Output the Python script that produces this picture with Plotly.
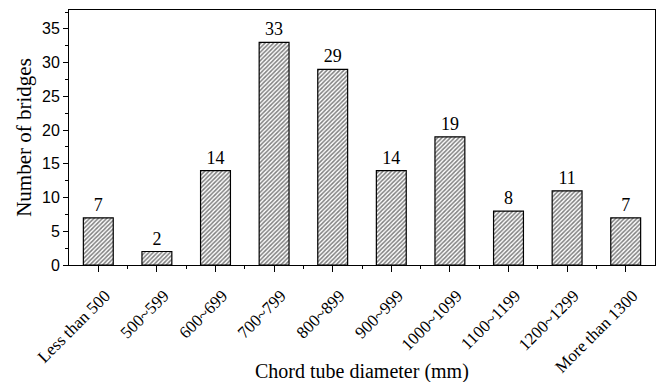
import plotly.graph_objects as go

categories = ["Less than 500", "500~599", "600~699", "700~799", "800~899",
              "900~999", "1000~1099", "1100~1199", "1200~1299", "More than 1300"]
counts = [7, 2, 14, 33, 29, 14, 19, 8, 11, 7]
y_ticks = [0, 5, 10, 15, 20, 25, 30, 35]

xpos = list(range(len(categories)))

fig = go.Figure()
fig.add_trace(go.Bar(
    x=xpos, y=counts, width=0.51,
    text=[str(c) for c in counts], textposition="outside",
    textfont=dict(family="Liberation Serif", size=18, color="black"),
    cliponaxis=False,
    marker=dict(color="white", line=dict(color="black", width=1.2),
                pattern=dict(shape="/", fgcolor="black", bgcolor="white", size=3, solidity=0.5)),
))

fig.update_layout(
    width=662, height=382,
    margin=dict(l=69, r=7, t=10, b=117),
    paper_bgcolor="white", plot_bgcolor="white",
    showlegend=False,
    xaxis=dict(
        range=[-0.5, 9.5], tickmode="array", tickvals=xpos, ticktext=categories,
        tickangle=-45, ticks="outside", ticklen=6, tickcolor="black",
        tickfont=dict(family="Liberation Serif", size=17, color="black"),
        ticklabelstandoff=7, ticklabelshift=7,
        showline=True, linecolor="black", linewidth=1, mirror=True,
        showgrid=False, zeroline=False, automargin=False,
        minor=dict(tickvals=[i + 0.5 for i in xpos[:-1]], ticks="outside", ticklen=3, tickcolor="black"),
    ),
    yaxis=dict(
        range=[0, 37.8], tickmode="array", tickvals=y_ticks,
        ticks="outside", ticklen=5, tickcolor="black",
        tickfont=dict(family="Liberation Sans", size=16, color="black"),
        showline=True, linecolor="black", linewidth=1, mirror=True,
        showgrid=False, zeroline=False, automargin=False,
        minor=dict(dtick=2.5, tick0=0, ticks="outside", ticklen=3, tickcolor="black"),
        title=dict(text="Number of bridges", font=dict(family="Liberation Serif", size=21, color="black"), standoff=4),
    ),
    annotations=[dict(
        text="Chord tube diameter (mm)", xref="paper", yref="paper",
        x=0.5, y=0, yshift=-106, xanchor="center", yanchor="middle", showarrow=False,
        font=dict(family="Liberation Serif", size=20, color="black"),
    )],
)

fig.write_html("out.html")
